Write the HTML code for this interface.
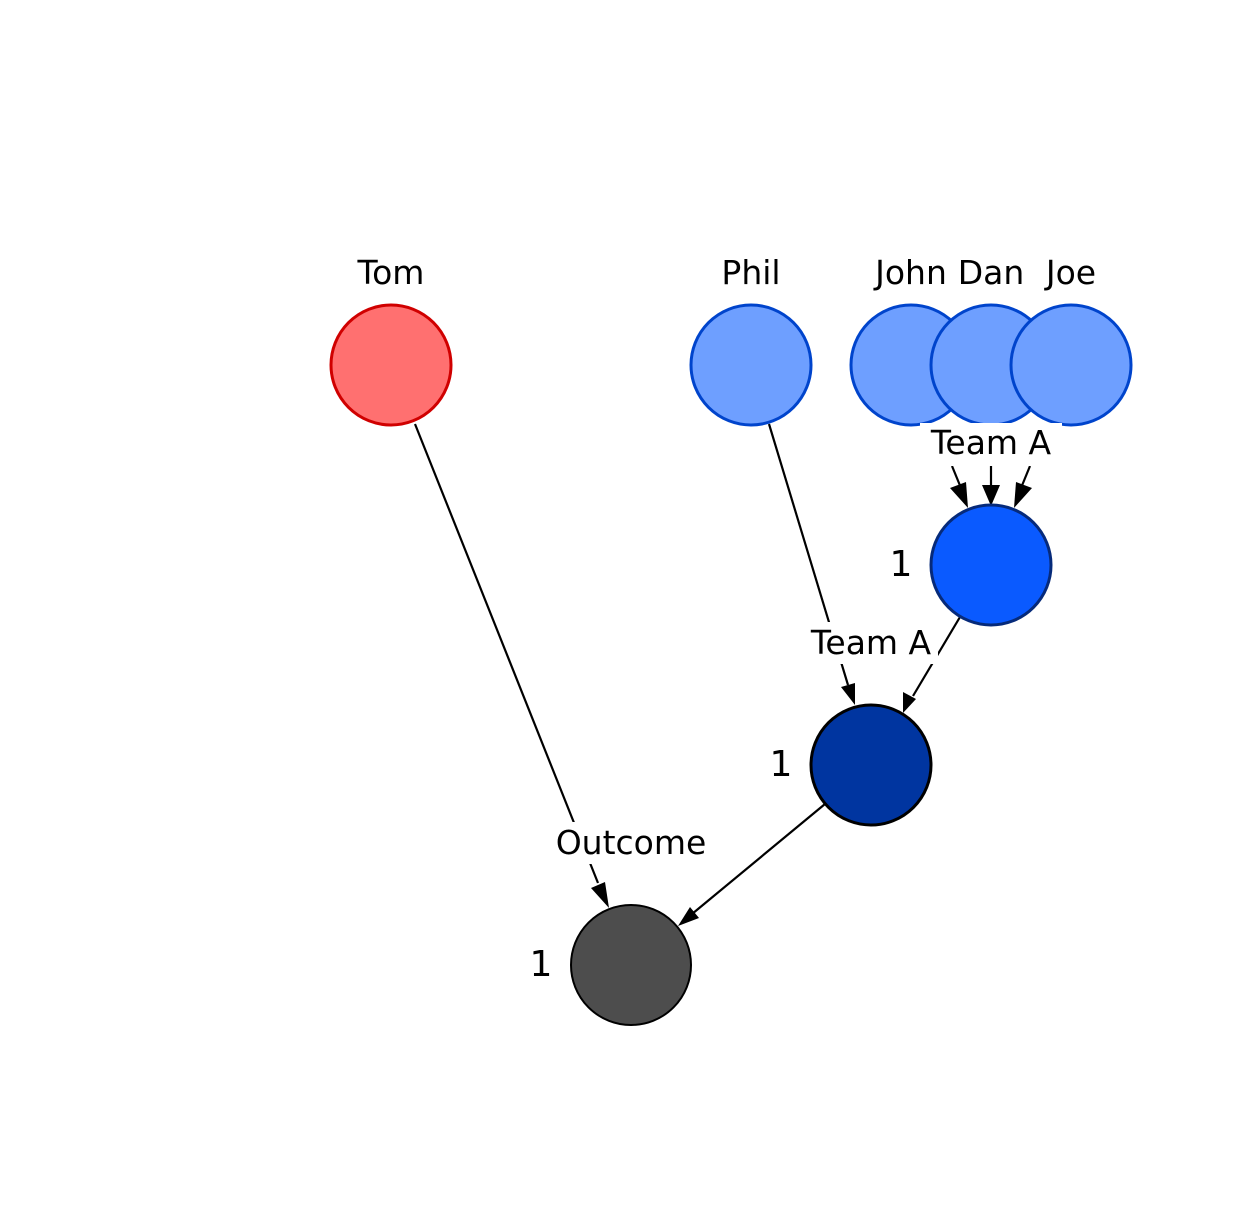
<!DOCTYPE html>
<html><head><meta charset="utf-8"><style>
html,body{margin:0;padding:0;background:#fff;width:1242px;height:1229px;overflow:hidden}
text{font-family:"DejaVu Sans","Liberation Sans",sans-serif}
</style></head><body>
<svg width="1242" height="1229" viewBox="0 0 1242 1229" xmlns="http://www.w3.org/2000/svg">
<circle cx="391" cy="365" r="60" fill="#ff7070" stroke="#d00000" stroke-width="3"/>
<circle cx="751" cy="365" r="60" fill="#6e9fff" stroke="#0044cc" stroke-width="3"/>
<circle cx="911" cy="365" r="60" fill="#6e9fff" stroke="#0044cc" stroke-width="3"/>
<circle cx="991" cy="365" r="60" fill="#6e9fff" stroke="#0044cc" stroke-width="3"/>
<circle cx="1071" cy="365" r="60" fill="#6e9fff" stroke="#0044cc" stroke-width="3"/>
<g style="font-size:33px" text-anchor="middle" fill="#000">
<text x="391" y="284">Tom</text>
<text x="751" y="284">Phil</text>
<text x="911" y="284">John</text>
<text x="991" y="284">Dan</text>
<text x="1071" y="284">Joe</text>
</g>
<g stroke="#000" stroke-width="2.2" fill="none">
<line x1="415" y1="424" x2="598" y2="883"/>
<line x1="769" y1="424" x2="848" y2="685"/>
<line x1="960" y1="617" x2="913" y2="696"/>
<line x1="825" y1="804" x2="692" y2="914"/>
<line x1="952" y1="466" x2="961" y2="488"/>
<line x1="991" y1="466" x2="991" y2="486"/>
<line x1="1030" y1="466" x2="1021" y2="488"/>
</g>
<g fill="#000">
<polygon points="609,908 591,888 605,882"/>
<polygon points="855,705 841,687 855,683"/>
<polygon points="903,713 903,692 916,699"/>
<polygon points="678,926 690,907 699,918"/>
<polygon points="968,508 950,488 966,482"/>
<polygon points="991,506 982,485 1000,485"/>
<polygon points="1014,508 1016,482 1032,488"/>
</g>
<rect x="920" y="423" width="142" height="43" fill="#fff"/>
<rect x="806" y="622" width="132" height="42" fill="#fff"/>
<rect x="553" y="822" width="156" height="42" fill="#fff"/>
<g style="font-size:33px" text-anchor="middle" fill="#000">
<text x="991" y="454">Team A</text>
<text x="871" y="654">Team A</text>
<text x="631" y="854">Outcome</text>
</g>
<circle cx="991" cy="565" r="60" fill="#0a5aff" stroke="#062a7a" stroke-width="3"/>
<circle cx="871" cy="765" r="60" fill="#0035a0" stroke="#000" stroke-width="3"/>
<circle cx="631" cy="965" r="60" fill="#4d4d4d" stroke="#000" stroke-width="2"/>
<g style="font-size:36px" text-anchor="middle" fill="#000">
<text x="901" y="576">1</text>
<text x="781" y="776">1</text>
<text x="541" y="976">1</text>
</g>
</svg>
</body></html>
